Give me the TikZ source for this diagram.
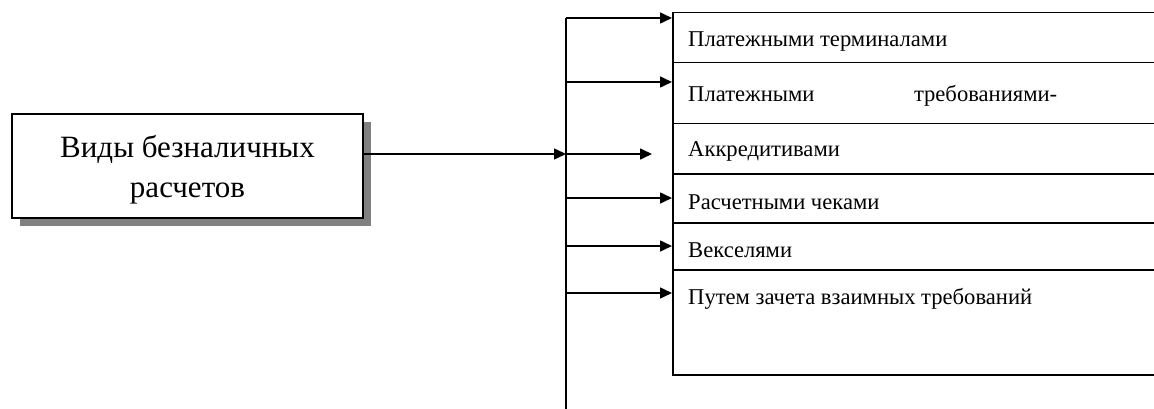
\documentclass[tikz,border=0pt]{standalone}
\usepackage{fontspec}
\setmainfont{Liberation Serif}
\usetikzlibrary{arrows.meta,shadows}
\newcommand{\Spine}{566}
\newcommand{\RowLeft}{672}
\newcommand{\TextLeft}{688}
\tikzset{Main/.style={
    draw=black,
    fill=white,
    line width=1.5pt,
    inner sep=0pt,
    minimum width=351pt,
    minimum height=104pt,
    drop shadow={shadow xshift=8pt, shadow yshift=-8pt, fill=black!50, opacity=1}
    },
    MainText/.style={
    inner sep=0pt,
    align=center,
    font={\fontsize{31pt}{40pt}\selectfont}
    },
    Row/.style={
    draw=black,
    line width=1.5pt,
    inner sep=0pt,
    anchor=north west,
    minimum width=510pt
    },
    RowText/.style={
    anchor=base west,
    inner sep=0pt,
    font={\fontsize{22.6pt}{26pt}\selectfont}
    },
    Link/.style={line width=1.5pt, -{Triangle[length=12pt,width=11pt]}}
}

\begin{document}
\begin{tikzpicture}[x=1pt, y=-1pt]
\useasboundingbox (0,0) rectangle (1154,409);
\node [Main] (main) at (187.5,166) {};
\node [MainText] (mtext) at ([yshift=-4pt]main.center) {Виды безналичных\\расчетов};
% rows on the right (they run past the right edge)
\foreach \n/\top/\h/\base/\txt in {
  1/12/50/47/{Платежными терминалами},
  2/62/61/102/{\hbox to 369pt{Платежными\hfill требованиями-}},
  3/123/50/157/{Аккредитивами},
  4/173/49/209/{Расчетными чеками},
  5/222/47/257/{Векселями},
  6/269/105/304/{Путем зачета взаимных требований}} {
\node [Row, minimum height=\h pt] (r\n) at (\RowLeft,\top) {};
\node [RowText] (t\n) at (\TextLeft,\base) {\txt};
}
% spine and branches
\coordinate (top) at (\Spine,18);
\coordinate (bottom) at (\Spine,409);
\coordinate (hub) at (\Spine,154);
\coordinate (stub) at (652,154);
\draw [line width=1.5pt] (top) -- (bottom);
\draw [Link] (main.east |- hub) -- (hub);
\draw [Link] (hub) -- (stub);
\foreach \n/\y in {1/18, 2/82, 4/198, 5/246, 6/293} {
\coordinate (b\n) at (\Spine,\y);
\draw [Link] (b\n) -- (b\n -| r\n.west);
}
\end{tikzpicture}
\end{document}
